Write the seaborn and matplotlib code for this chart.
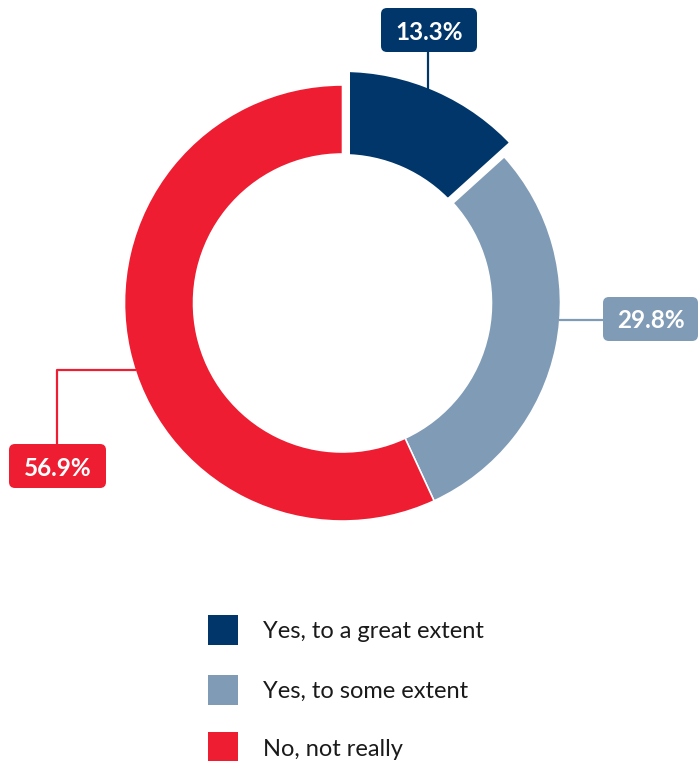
import matplotlib
matplotlib.use("Agg")
import matplotlib.pyplot as plt
from matplotlib.patches import FancyBboxPatch, Rectangle
import seaborn as sns

# Survey answers and their shares (%)
categories = ["Yes, to a great extent", "Yes, to some extent", "No, not really"]
shares = [13.3, 29.8, 56.9]
value_labels = ["13.3%", "29.8%", "56.9%"]
colors = ["#00366a", "#7f9bb6", "#ee1d31"]

sns.set_theme(style="white")
palette = sns.color_palette(colors)
plt.rcParams["font.family"] = ["Lato", "DejaVu Sans"]

W, H = 698, 761
DPI = 100
fig = plt.figure(figsize=(W / DPI, H / DPI), dpi=DPI)
ax = fig.add_axes([0, 0, 1, 1])

px = 72 / DPI  # points per pixel

cx, cy = 342.5, H - 303
R, ring = 218, 69

wedges, _ = ax.pie(
    shares,
    colors=palette,
    radius=R,
    center=(cx, cy),
    startangle=90,
    counterclock=False,
    wedgeprops=dict(width=ring, edgecolor="white", linewidth=1.6 * px),
)

# the first answer is pulled out: larger outer radius and a wide white gap
# on its own side (drawn underneath the neighbouring wedges)
gap = 7.5
w0 = wedges[0]
w0.set_radius(231 + gap)
w0.set_width(231 + gap - (149 - gap))
w0.set_linewidth(2 * gap * px)
w0.set_joinstyle("miter")
w0.set_zorder(0.5)

ax.set_xlim(0, W)
ax.set_ylim(0, H)
ax.set_aspect("equal")
ax.axis("off")

# value callouts: box (left, top, width, height) and leader line points
callouts = [
    dict(box=(381, 8, 96, 44), line=[(428, 52), (428, 89)]),
    dict(box=(603, 297, 95, 44), line=[(559, 320), (603, 320)]),
    dict(box=(9, 444, 97, 44), line=[(57, 444), (57, 370), (136, 370)]),
]
for lab, col, c in zip(value_labels, palette, callouts):
    x0, y0, bw, bh = c["box"]
    xs = [p[0] for p in c["line"]]
    ys = [H - p[1] for p in c["line"]]
    ax.plot(xs, ys, color=col, lw=2.2 * px, solid_capstyle="butt", zorder=4)
    ax.add_patch(FancyBboxPatch((x0, H - y0 - bh), bw, bh,
                                boxstyle="round,pad=0,rounding_size=6",
                                fc=col, ec="none", zorder=5))
    ax.text(x0 + bw / 2, H - y0 - bh / 2, lab, color="white",
            fontsize=17.5, fontweight="bold", ha="center", va="center_baseline",
            zorder=6)

# legend
leg_y = [630, 689.5, 747]
for lab, col, y in zip(categories, palette, leg_y):
    ax.add_patch(Rectangle((208, H - y - 15), 30, 30, fc=col, ec="none"))
    ax.text(263, H - y, lab, color="#1a1a1a", fontsize=17,
            ha="left", va="center_baseline")

fig.savefig("out.png", dpi=DPI)
